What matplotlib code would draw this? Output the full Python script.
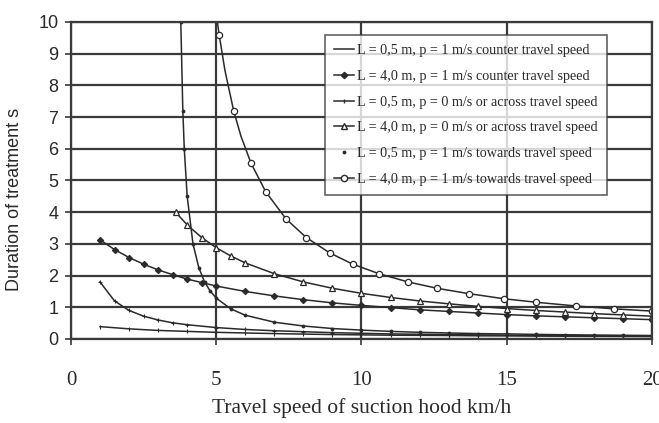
import matplotlib
matplotlib.use("Agg")
import matplotlib.pyplot as plt
from matplotlib.lines import Line2D

# ---- data ----
labels = [
    "L = 0,5 m, p = 1 m/s counter travel speed",
    "L = 4,0 m, p = 1 m/s counter travel speed",
    "L = 0,5 m, p = 0 m/s or across travel speed",
    "L = 4,0 m, p = 0 m/s or across travel speed",
    "L = 0,5 m, p = 1 m/s towards travel speed",
    "L = 4,0 m, p = 1 m/s towards travel speed",
]

x1 = [1, 2, 3, 4, 5, 6, 7, 8, 9, 10, 11, 12, 13, 14, 15, 16, 17, 18, 19, 20]
y1 = [0.39, 0.32, 0.27, 0.24, 0.21, 0.19, 0.17, 0.155, 0.14, 0.13, 0.12, 0.115,
      0.11, 0.10, 0.097, 0.092, 0.087, 0.083, 0.08, 0.076]

x2 = [1, 1.5, 2, 2.5, 3, 3.5, 4, 4.5, 5, 6, 7, 8, 9, 10, 11, 12, 13, 14, 15,
      16, 17, 18, 19, 20]
y2 = [3.13, 2.82, 2.57, 2.36, 2.18, 2.03, 1.89, 1.78, 1.67, 1.50, 1.36, 1.24,
      1.14, 1.06, 0.99, 0.92, 0.87, 0.82, 0.77, 0.73, 0.70, 0.67, 0.64, 0.61]

x3 = [1, 1.5, 2, 2.5, 3, 3.5, 4, 5, 6, 7, 8, 9, 10, 11, 12, 13, 14, 15, 16,
      17, 18, 19, 20]
y3 = [1.8, 1.2, 0.9, 0.72, 0.6, 0.51, 0.45, 0.36, 0.3, 0.26, 0.23, 0.2, 0.18,
      0.16, 0.15, 0.14, 0.13, 0.12, 0.11, 0.106, 0.1, 0.095, 0.09]

x4 = [3.6, 4, 4.5, 5, 5.5, 6, 7, 8, 9, 10, 11, 12, 13, 14, 15, 16, 17, 18, 19, 20]
y4 = [4.0, 3.6, 3.2, 2.88, 2.62, 2.4, 2.06, 1.8, 1.6, 1.44, 1.31, 1.2, 1.11,
      1.03, 0.96, 0.9, 0.85, 0.8, 0.76, 0.72]

x5 = [3.78, 3.85, 3.9, 4.0, 4.2, 4.4, 4.6, 4.8, 5.0, 5.5, 6, 7, 8, 9, 10, 11,
      12, 13, 14, 15, 16, 17, 18, 19, 20]
y5 = [10.0, 7.2, 6.0, 4.5, 3.0, 2.25, 1.8, 1.5, 1.29, 0.95, 0.75, 0.53, 0.41,
      0.33, 0.28, 0.24, 0.21, 0.19, 0.17, 0.16, 0.145, 0.134, 0.125, 0.117, 0.11]

x6 = [5.04, 5.1, 5.3, 5.6, 5.85, 6.2, 6.7, 7.4, 8.1, 8.9, 9.7, 10.6, 11.6,
      12.6, 13.7, 14.9, 16.0, 17.4, 18.7, 20]
y6 = [10.0, 9.6, 8.47, 7.2, 6.4, 5.54, 4.65, 3.79, 3.2, 2.72, 2.36, 2.06, 1.8,
      1.6, 1.43, 1.27, 1.16, 1.04, 0.95, 0.88]

x_ticks = [0, 5, 10, 15, 20]
y_ticks = [0, 1, 2, 3, 4, 5, 6, 7, 8, 9, 10]

# ---- drawing ----
serif = ["Liberation Serif", "DejaVu Serif"]
sans = ["Liberation Sans", "DejaVu Sans"]
ink = "#2a2a2a"
grid = "#3a3a3a"

fig = plt.figure(figsize=(6.59, 4.23), dpi=100)
ax = fig.add_axes([0.1077, 0.1986, 0.8817, 0.7494])

ax.set_xlim(0, 20)
ax.set_ylim(0, 10)
ax.set_xticks(x_ticks)
ax.set_yticks(y_ticks)
ax.grid(True, color=grid, linewidth=1.6)
ax.set_axisbelow(True)
for s in ax.spines.values():
    s.set_color(grid)
    s.set_linewidth(1.6)

ax.tick_params(axis="y", direction="out", length=4, width=1.2, color=grid,
               pad=5, labelsize=13)
ax.tick_params(axis="x", direction="inout", length=8, width=1.2, color=grid,
               pad=19, labelsize=15)
for t in ax.get_xticklabels():
    t.set_family(serif)
    t.set_color(ink)
for t in ax.get_yticklabels():
    t.set_family(sans)
    t.set_color(ink)

lw = 1.1
ax.plot(x1, y1, color=ink, lw=lw, marker="|", ms=3, mew=0.8)
ax.plot(x2, y2, color=ink, lw=lw, marker="D", ms=3.2, mfc=ink, mec=ink, mew=0.8)
ax.plot(x3, y3, color=ink, lw=lw, marker="+", ms=3.5, mew=0.8)
ax.plot(x4, y4, color=ink, lw=lw, marker="^", ms=4.5, mfc="white", mec=ink, mew=0.9)
ax.plot(x5, y5, color=ink, lw=lw, marker=".", ms=3.5)
ax.plot(x6, y6, color=ink, lw=lw, marker="o", ms=4.5, mfc="white", mec=ink,
        mew=0.9, markevery=[1, 3, 5, 6, 7, 8, 9, 10, 11, 12, 13, 14, 15, 16, 17, 18, 19])

handles = [
    Line2D([], [], color=ink, lw=lw),
    Line2D([], [], color=ink, lw=lw, marker="D", ms=3.2, mfc=ink, mec=ink),
    Line2D([], [], color=ink, lw=lw, marker="|", ms=3.5),
    Line2D([], [], color=ink, lw=lw, marker="^", ms=4.5, mfc="white", mec=ink),
    Line2D([], [], color=ink, lw=0, marker=".", ms=3.5),
    Line2D([], [], color=ink, lw=lw, marker="o", ms=4.5, mfc="white", mec=ink),
]
leg = ax.legend(handles, labels, loc="upper left",
                bbox_to_anchor=((325 - 71) / 581, (339 - 35) / 317),
                prop={"family": serif, "size": 10.2},
                frameon=True, fancybox=False, shadow=False,
                handlelength=1.4, handletextpad=0.2, labelspacing=0.9,
                borderpad=0.65, borderaxespad=0.0)
leg.get_frame().set_edgecolor(grid)
leg.get_frame().set_linewidth(1.2)
for t in leg.get_texts():
    t.set_color(ink)

ax.set_xlabel("Travel speed of suction hood km/h", family=serif, fontsize=15.5,
              color=ink, labelpad=6)
ax.set_ylabel("Duration of treatment s", family=sans, fontsize=13, color=ink)
ax.yaxis.set_label_coords(-0.083, 0.44)

fig.savefig("out.png", dpi=100)
